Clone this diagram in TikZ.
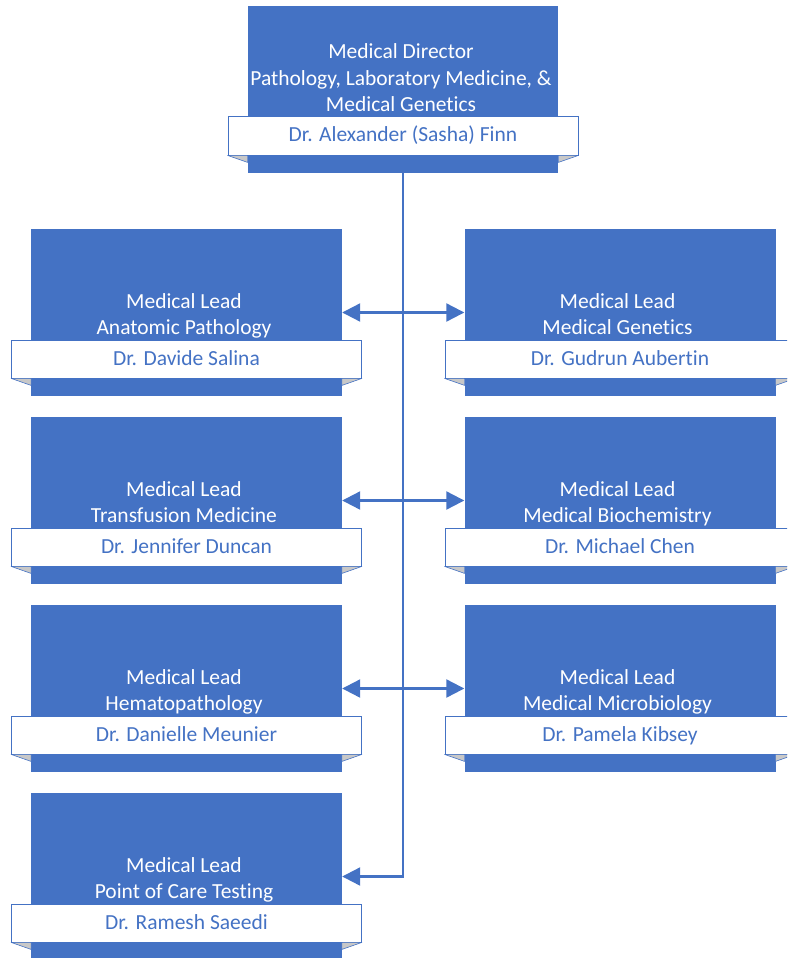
\documentclass[tikz,border=0pt]{standalone}
\usepackage{fontspec}
\setmainfont{Carlito}[Ligatures=NoCommon]
\usetikzlibrary{arrows.meta}
\definecolor{chartblue}{HTML}{4472C4}
\definecolor{foldgray}{HTML}{C8C8C8}

\begin{document}
\begin{tikzpicture}[x=1pt,y=-1pt,
  card/.style={fill=chartblue, minimum width=311pt, minimum height=167pt, inner sep=0pt},
  title/.style={text=white, anchor=base, inner sep=0pt, font=\fontsize{21.5}{26}\selectfont},
  banner/.style={draw=chartblue, line width=0.8pt, fill=white, text=chartblue, minimum width=350pt, minimum height=38pt, inner sep=0pt, text height=16pt, text depth=4pt, font=\fontsize{21.5}{26}\selectfont},
  fold/.style={fill=foldgray, draw=chartblue, line width=0.6pt, line join=round},
  wire/.style={draw=chartblue, line width=2.2pt},
  both/.style={wire, {Triangle[length=18pt,width=18pt]}-{Triangle[length=18pt,width=18pt]}},
  tip/.style={wire, -{Triangle[length=18pt,width=18pt]}}]
\useasboundingbox (0,0) rectangle (787,958);
\clip (0,0) rectangle (787,958);

% director at the top
\node[card, minimum width=310pt] (dir) at (403,89.5) {};
\node[title] (dir-t1) at (401,59) {Medical Director};
\node[title] (dir-t2) at (401,85) {Pathology, Laboratory Medicine, \&};
\node[title] (dir-t3) at (401,111) {Medical Genetics};
\node[banner, minimum height=39pt] (dir-name) at (403,135.5) {Dr. Alexander (Sasha) Finn};
\filldraw[fold] (dir-name.south west) -- ++(20,0) -- ++(0,7) -- cycle;
\filldraw[fold] (dir-name.south east) -- ++(-20,0) -- ++(0,7) -- cycle;

% medical leads
\foreach \id/\x/\y/\dept/\who in {
    ap/186.5/312.5/Anatomic Pathology/Dr. Davide Salina,
    mg/620/312.5/Medical Genetics/Dr. Gudrun Aubertin,
    tm/186.5/500.5/Transfusion Medicine/Dr. Jennifer Duncan,
    mb/620/500.5/Medical Biochemistry/Dr. Michael Chen,
    hp/186.5/688.5/Hematopathology/Dr. Danielle Meunier,
    mm/620/688.5/Medical Microbiology/Dr. Pamela Kibsey,
    poc/186.5/876.5/Point of Care Testing/Dr. Ramesh Saeedi} {
  \node[card] (\id) at (\x,\y) {};
  \node[title] (\id-t1) at (\x-2.5,\y-4.5) {Medical Lead};
  \node[title] (\id-t2) at (\x-2.5,\y+21.5) {\dept};
  \node[banner] (\id-name) at (\x,\y+46.5) {\who};
  \filldraw[fold] (\id-name.south west) -- ++(20,0) -- ++(0,7) -- cycle;
  \filldraw[fold] (\id-name.south east) -- ++(-20,0) -- ++(0,7) -- cycle;
}

% reporting lines
\draw[tip] (dir.south) |- (poc.east);
\draw[both] (ap.east) -- (mg.west);
\draw[both] (tm.east) -- (mb.west);
\draw[both] (hp.east) -- (mm.west);
\end{tikzpicture}
\end{document}
